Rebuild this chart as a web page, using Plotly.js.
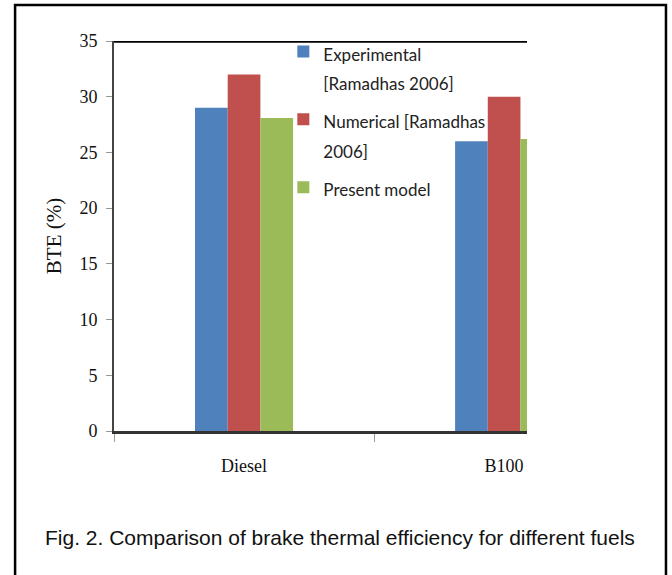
<!DOCTYPE html>
<html>
<head>
<meta charset="utf-8">
<script src="https://cdn.plot.ly/plotly-3.0.1.min.js"></script>
<style>html,body{margin:0;padding:0;background:#fff;}#chart{width:672px;height:575px;}</style>
</head>
<body>
<div id="chart"></div>
<script>
const fuels = ["Diesel", "B100"];
const experimental = [29.0, 26.0];
const numerical = [32.0, 30.0];
const presentModel = [28.1, 26.2];
const seriesNames = [["Experimental", "[Ramadhas 2006]"], ["Numerical [Ramadhas", "2006]"], ["Present model"]];
const yTicks = [0, 5, 10, 15, 20, 25, 30, 35];

const colors = ["#4F81BD", "#C0504D", "#9BBB59"];
const values = [experimental, numerical, presentModel];

const wrapLines = lines => lines.map(s => "<span style='font-size:17px'>" + s + "</span>").join("<br>");

const traces = values.map((v, i) => ({
  type: "bar",
  x: fuels,
  y: v,
  name: wrapLines(seriesNames[i]),
  marker: {color: colors[i], line: {width: 0}},
  hoverinfo: "skip",
  legendgroup: "g" + i
}));

const serif = "Liberation Serif, Times New Roman, serif";

const layout = {
  width: 672,
  height: 575,
  margin: {l: 114, r: 145, t: 41, b: 144, pad: 0},
  paper_bgcolor: "#ffffff",
  plot_bgcolor: "#ffffff",
  barmode: "group",
  bargap: 0.623,
  bargroupgap: 0,
  showlegend: true,
  legend: {
    x: 0.41, xanchor: "left",
    y: 1.028, yanchor: "top",
    bgcolor: "rgba(0,0,0,0)",
    font: {family: "Lato, Open Sans, sans-serif", size: 23, color: "#222"},
    traceorder: "grouped",
    tracegroupgap: 5,
    itemwidth: 30,
    valign: "top"
  },
  xaxis: {
    type: "category",
    range: [-0.5, 1.088],
    showline: true, linecolor: "#333", linewidth: 3,
    ticks: "outside", tickson: "boundaries", ticklen: 8, tickcolor: "#999", tickwidth: 1,
    ticklabelstandoff: 16,
    tickfont: {family: serif, size: 18, color: "#111"},
    showgrid: false, zeroline: false, fixedrange: true
  },
  yaxis: {
    range: [0, 35],
    tickvals: yTicks,
    ticktext: yTicks.map(String),
    showline: true, linecolor: "#444", linewidth: 2,
    ticks: "outside", ticklen: 6, tickcolor: "#999", tickwidth: 1,
    ticklabelstandoff: 5,
    tickfont: {family: serif, size: 18, color: "#111"},
    showgrid: false, zeroline: false, fixedrange: true,
    title: {text: "BTE (%)", font: {family: serif, size: 21, color: "#111"}, standoff: 12}
  },
  shapes: [
    {type: "line", xref: "paper", yref: "y", x0: 0, x1: 1, y0: 35, y1: 35,
     line: {color: "#000", width: 3.5}, layer: "above"},
    {type: "rect", xref: "paper", yref: "paper", x0: 1.002, x1: 1.06, y0: -0.2, y1: -0.03,
     fillcolor: "#fff", line: {width: 0}, layer: "above"},
    {type: "rect", xref: "paper", yref: "paper", x0: -0.2395, x1: 1.3365, y0: 1.092, y1: -0.38,
     fillcolor: "rgba(0,0,0,0)", line: {color: "#000", width: 2.5}, layer: "above"}
  ],
  annotations: [
    {xref: "paper", yref: "paper", x: 0.547, y: -0.272, xanchor: "center", yanchor: "middle",
     text: "Fig. 2. Comparison of brake thermal efficiency for different fuels",
     showarrow: false, font: {family: "Liberation Sans, Arial, sans-serif", size: 21, color: "#111"}}
  ]
};

Plotly.newPlot("chart", traces, layout, {displayModeBar: false, staticPlot: true});
</script>
</body>
</html>
